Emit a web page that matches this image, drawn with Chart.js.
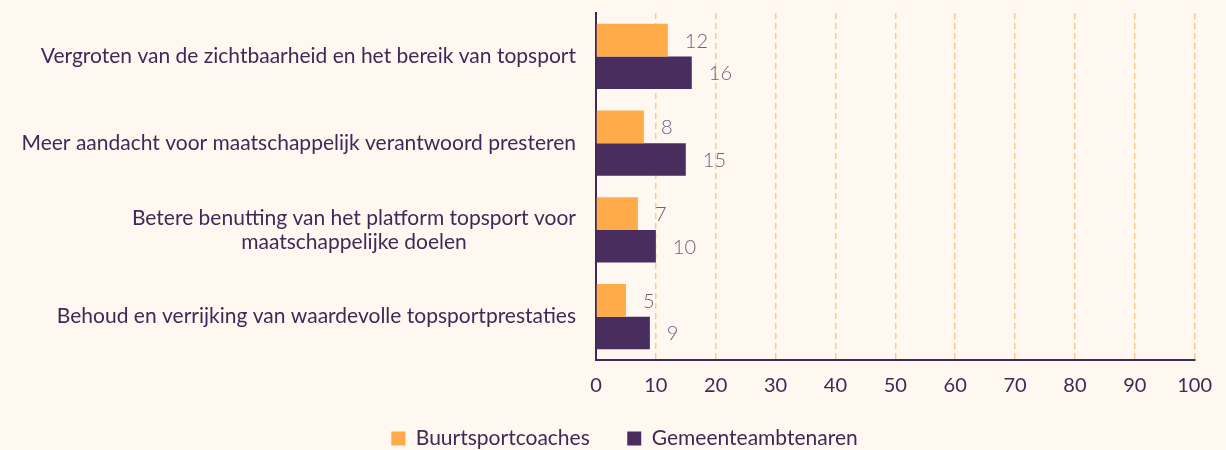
<!DOCTYPE html>
<html lang="nl">
<head>
  <meta charset="UTF-8">
  <title>Topsport doelen</title>
  <script src="https://cdn.jsdelivr.net/npm/chart.js"></script>
  <style>
    body {
      margin: 0;
      padding: 0;
      background-color: #fff8f1;
      font-family: Lato, sans-serif;
    }
    #wrap {
      width: 1226px;
      height: 450px;
    }
  </style>
</head>
<body>
  <div id="wrap">
    <canvas id="grafiek" width="1226" height="450"></canvas>
  </div>

  <script>
    const categorieen = [
      ["Vergroten van de zichtbaarheid en het bereik van topsport"],
      ["Meer aandacht voor maatschappelijk verantwoord presteren"],
      ["Betere benutting van het platform topsport voor", "maatschappelijke doelen"],
      ["Behoud en verrijking van waardevolle topsportprestaties"]
    ];
    const buurtsportcoaches = [12, 8, 7, 5];
    const gemeenteambtenaren = [16, 15, 10, 9];
    const xTicks = [0, 10, 20, 30, 40, 50, 60, 70, 80, 90, 100];

    const donker = '#3f2a56';
    const links = 32;

    // eigen y-labels: brede regel rechts uitgelijnd, andere regels daaronder gecentreerd
    const yLabels = {
      id: 'yLabels',
      afterDraw(chart) {
        const ctx = chart.ctx;
        const y = chart.scales.y;
        const right = chart.chartArea.left - 20;
        ctx.save();
        ctx.font = '21px Lato';
        ctx.fillStyle = donker;
        ctx.textAlign = 'center';
        ctx.textBaseline = 'middle';
        categorieen.forEach((regels, i) => {
          const cy = y.getPixelForValue(i);
          const breed = Math.max(...regels.map(r => ctx.measureText(r).width));
          const cx = right - breed / 2;
          const lh = 24;
          const start = cy - (regels.length - 1) * lh / 2;
          regels.forEach((r, j) => ctx.fillText(r, cx, start + j * lh));
        });
        ctx.restore();
      }
    };

    // waarden achter de balken
    const waarden = {
      id: 'waarden',
      afterDatasetsDraw(chart) {
        const ctx = chart.ctx;
        ctx.save();
        ctx.font = '300 20px Lato';
        ctx.fillStyle = '#6e5e80';
        ctx.textAlign = 'left';
        ctx.textBaseline = 'middle';
        chart.data.datasets.forEach((ds, di) => {
          chart.getDatasetMeta(di).data.forEach((bar, i) => {
            ctx.fillText(ds.data[i], bar.x + 17, bar.y + 1);
          });
        });
        ctx.restore();
      }
    };

    new Chart(document.getElementById('grafiek'), {
      type: 'bar',
      data: {
        labels: categorieen,
        datasets: [
          {
            label: 'Buurtsportcoaches',
            data: buurtsportcoaches,
            backgroundColor: '#ffab4a',
            barPercentage: 1,
            categoryPercentage: 0.75
          },
          {
            label: 'Gemeenteambtenaren',
            data: gemeenteambtenaren,
            backgroundColor: '#482d5e',
            barPercentage: 1,
            categoryPercentage: 0.75
          }
        ]
      },
      options: {
        indexAxis: 'y',
        responsive: false,
        animation: false,
        layout: { padding: { top: 13, right: 9, left: links, bottom: -9 } },
        scales: {
          x: {
            min: 0,
            max: 100,
            afterBuildTicks: s => { s.ticks = xTicks.map(v => ({ value: v })); },
            grid: {
              color: ctx => ctx.tick && ctx.tick.value === 0 ? 'rgba(0,0,0,0)' : '#ffc98c',
              lineWidth: 1.5,
              drawTicks: false
            },
            border: { display: true, color: donker, width: 2, dash: [6, 4] },
            ticks: {
              color: donker,
              font: { family: 'Lato', size: 20 },
              padding: 14
            }
          },
          y: {
            afterFit: s => { s.width = 596 - links; },
            grid: { display: false, drawTicks: false },
            border: { display: true, color: donker, width: 2 },
            ticks: { display: false }
          }
        },
        plugins: {
          legend: {
            position: 'bottom',
            labels: {
              color: donker,
              font: { family: 'Lato', size: 21 },
              boxWidth: 14,
              boxHeight: 14,
              padding: 16,
              generateLabels: chart => Chart.defaults.plugins.legend.labels.generateLabels(chart)
                .map((it, i, all) => ({ ...it, text: i < all.length - 1 ? it.text + '    ' : it.text }))
            }
          },
          tooltip: { enabled: false }
        }
      },
      plugins: [yLabels, waarden]
    });
  </script>
</body>
</html>
